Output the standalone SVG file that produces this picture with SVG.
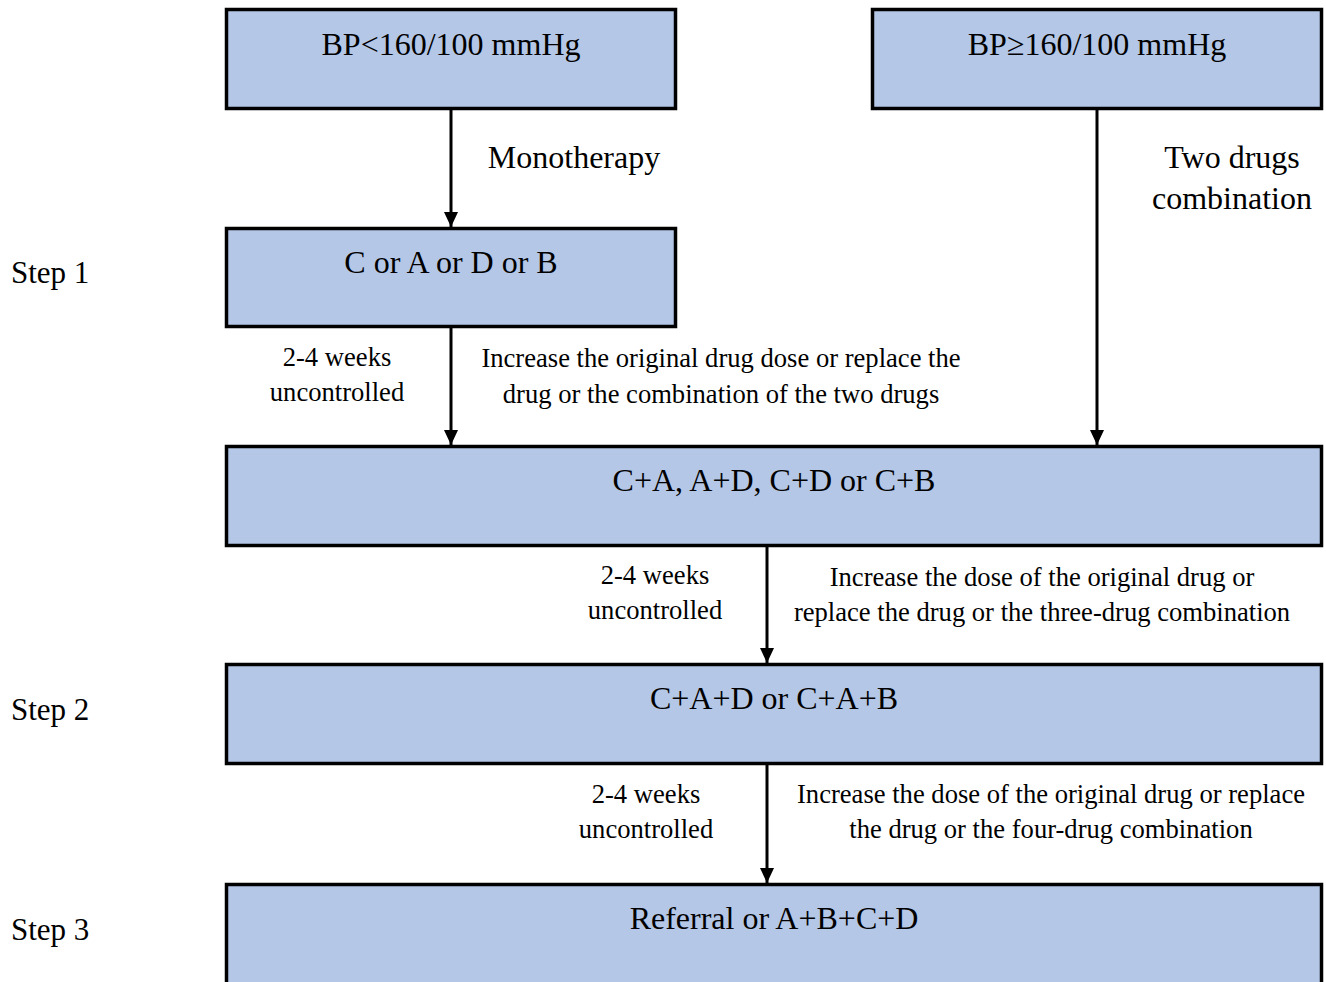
<svg xmlns="http://www.w3.org/2000/svg" width="1326" height="982" viewBox="0 0 1326 982">
<defs>
<style>
.box{fill:#b4c7e7;stroke:#000;stroke-width:3.5}
.t{font-family:"Liberation Serif","Times New Roman",serif;fill:#000}
.big{font-size:32px;text-anchor:middle}
.lab{font-size:26.6px;text-anchor:middle}
.step{font-size:31px}
.con{stroke:#000;stroke-width:3;fill:none;marker-end:url(#ah)}
</style>
<marker id="ah" markerWidth="15" markerHeight="14" viewBox="0 0 15 14" refX="15" refY="7" orient="auto" markerUnits="userSpaceOnUse">
<path d="M0,0 L15,7 L0,14 Z" fill="#000"/>
</marker>
</defs>
<rect width="1326" height="982" fill="#fff"/>
<g id="connectors">
<line class="con" x1="451" y1="109" x2="451" y2="227"/>
<line class="con" x1="451" y1="327" x2="451" y2="445"/>
<line class="con" x1="1097" y1="109" x2="1097" y2="445"/>
<line class="con" x1="767" y1="546" x2="767" y2="663"/>
<line class="con" x1="767" y1="764" x2="767" y2="883"/>
</g>
<g id="n1"><rect class="box" x="226.5" y="9.5" width="449" height="99"/><text class="t big" x="451" y="55">BP&lt;160/100 mmHg</text></g>
<g id="n2"><rect class="box" x="872.5" y="9.5" width="449" height="99"/><text class="t big" x="1097" y="55">BP≥160/100 mmHg</text></g>
<g id="n3"><rect class="box" x="226.5" y="228.5" width="449" height="98"/><text class="t big" x="451" y="273">C or A or D or B</text></g>
<g id="n4"><rect class="box" x="226.5" y="446.5" width="1095" height="99"/><text class="t big" x="774" y="491">C+A, A+D, C+D or C+B</text></g>
<g id="n5"><rect class="box" x="226.5" y="664.5" width="1095" height="99"/><text class="t big" x="774" y="709">C+A+D or C+A+B</text></g>
<g id="n6"><rect class="box" x="226.5" y="884.5" width="1095" height="110"/><text class="t big" x="774" y="929">Referral or A+B+C+D</text></g>
<g id="labels">
<text class="t big" x="574" y="168">Monotherapy</text>
<text class="t big" x="1232" y="168">Two drugs</text>
<text class="t big" x="1232" y="209">combination</text>
<text class="t step" x="11" y="283">Step 1</text>
<text class="t step" x="11" y="720">Step 2</text>
<text class="t step" x="11" y="940">Step 3</text>
<text class="t lab" x="337" y="366">2-4 weeks</text>
<text class="t lab" x="337" y="401">uncontrolled</text>
<text class="t lab" x="721" y="367">Increase the original drug dose or replace the</text>
<text class="t lab" x="721" y="403">drug or the combination of the two drugs</text>
<text class="t lab" x="655" y="584">2-4 weeks</text>
<text class="t lab" x="655" y="619">uncontrolled</text>
<text class="t lab" x="1042" y="586">Increase the dose of the original drug or</text>
<text class="t lab" x="1042" y="621">replace the drug or the three-drug combination</text>
<text class="t lab" x="646" y="803">2-4 weeks</text>
<text class="t lab" x="646" y="838">uncontrolled</text>
<text class="t lab" x="1051" y="803">Increase the dose of the original drug or replace</text>
<text class="t lab" x="1051" y="838">the drug or the four-drug combination</text>
</g>
</svg>
